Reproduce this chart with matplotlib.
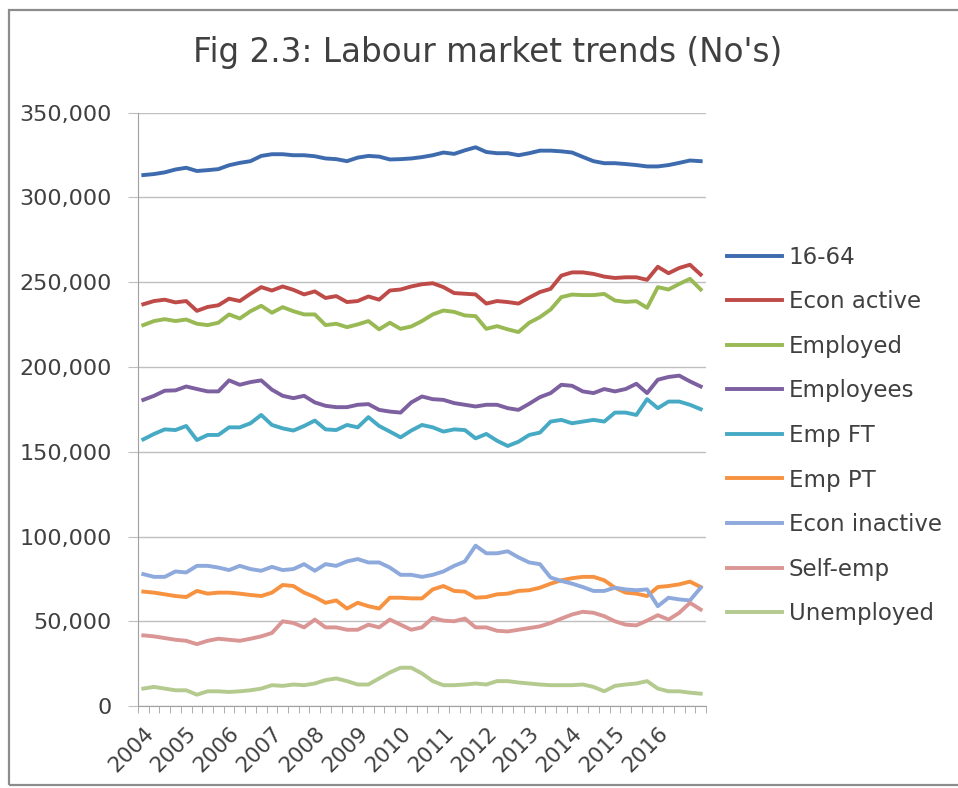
import numpy as np
import matplotlib.pyplot as plt
from matplotlib.patches import Rectangle
from matplotlib.ticker import FuncFormatter, FixedLocator

# quarterly points, 2004 onwards
years = ['2004', '2005', '2006', '2007', '2008', '2009', '2010',
         '2011', '2012', '2013', '2014', '2015', '2016']

age_16_64 = [313200, 313800, 314800, 316500, 317500, 315600, 316100, 316700, 319000,
             320400, 321400, 324500, 325500, 325500, 324900, 324900, 324300, 323000,
             322600, 321400, 323500, 324500, 324100, 322400, 322600, 323000, 323800,
             324900, 326500, 325700, 327800, 329600, 326800, 326100, 326100, 324900,
             326100, 327600, 327600, 327200, 326500, 323900, 321400, 320200, 320200,
             319700, 319100, 318300, 318300, 319100, 320400, 321800, 321400]
econ_active = [237000, 238900, 239700, 238100, 238900, 233100, 235400, 236400, 240300,
               238900, 243200, 247100, 245100, 247500, 245500, 242800, 244600, 240700,
               241800, 238300, 238900, 241600, 239700, 245100, 245700, 247500, 248800,
               249400, 247100, 243600, 243200, 242800, 237400, 238900, 238300, 237400,
               240900, 244200, 246100, 253900, 255800, 255800, 254900, 253300, 252500,
               252900, 252900, 251400, 259100, 255300, 258400, 260300, 254500]
employed = [224700, 227100, 228200, 227100, 228000, 225500, 224700, 226100, 231000,
            228600, 232900, 236100, 232000, 235300, 232900, 231000, 231000, 224700,
            225500, 223500, 225100, 227100, 222200, 226100, 222500, 223900, 227100,
            231000, 233300, 232500, 230400, 230000, 222500, 224100, 222200, 220600,
            226100, 229400, 233900, 241200, 242700, 242400, 242400, 243100, 239200,
            238400, 238800, 234900, 247100, 245700, 249000, 252000, 245700]
employees = [180600, 183000, 186000, 186200, 188500, 187000, 185600, 185600, 192100,
             189500, 191100, 192100, 186600, 183000, 181600, 183000, 179100, 177100,
             176300, 176300, 177700, 178100, 174700, 173700, 173100, 179100, 182600,
             181000, 180600, 178700, 177700, 176700, 177700, 177700, 175700, 174700,
             178300, 182200, 184600, 189500, 188900, 185600, 184600, 187000, 185600,
             187000, 190100, 184600, 192500, 194100, 194900, 191500, 188500]
emp_ft = [157300, 160500, 163200, 162800, 165200, 156900, 159900, 159900, 164400,
          164400, 166800, 171700, 165800, 163800, 162500, 165200, 168400, 163200,
          162800, 165800, 164400, 170400, 165200, 161900, 158500, 162500, 165800,
          164400, 161900, 163200, 162800, 157900, 160500, 156500, 153400, 155900,
          159900, 161300, 167800, 168800, 166800, 167800, 168800, 167800, 173100,
          173100, 171700, 181000, 175700, 179600, 179600, 177700, 175100]
emp_pt = [67500, 66900, 65900, 64900, 64300, 67900, 66300, 66900, 66900, 66300,
          65500, 64900, 66900, 71400, 70800, 66900, 64300, 60900, 62300, 57500,
          60900, 58900, 57500, 63900, 63900, 63500, 63500, 68800, 70800, 67900,
          67500, 63900, 64300, 65900, 66300, 67900, 68300, 69800, 72200, 74200,
          75400, 76200, 76200, 74200, 69800, 66900, 66300, 64900, 70200, 70800,
          71800, 73400, 70200]
econ_inactive = [77800, 76200, 76200, 79400, 78800, 82700, 82700, 81700, 80200, 82700,
                 80800, 79800, 82100, 80200, 80800, 83700, 79800, 83700, 82700, 85300,
                 86700, 84700, 84700, 81700, 77400, 77400, 76200, 77400, 79400, 82700,
                 85300, 94600, 90100, 90100, 91300, 87700, 84700, 83700, 75800, 73800,
                 72200, 70200, 67900, 67900, 69800, 68800, 68300, 68800, 58900, 63900,
                 62900, 62300, 69800]
self_emp = [41700, 41100, 40100, 39100, 38500, 36500, 38500, 39700, 39100, 38500,
            39700, 41100, 43100, 50000, 49000, 46400, 51000, 46400, 46400, 45000,
            45000, 48000, 46400, 51000, 48000, 45000, 46400, 52000, 50400, 50000,
            51600, 46400, 46400, 44400, 44000, 45000, 46000, 47000, 49000, 51600,
            54000, 55600, 55000, 53000, 50000, 48000, 47600, 50400, 53600, 51000,
            55000, 60900, 56900]
unemployed = [10300, 11300, 10300, 9300, 9300, 6700, 8700, 8700, 8300, 8700,
              9300, 10300, 12300, 11900, 12700, 12300, 13300, 15300, 16300, 14700,
              12700, 12700, 16300, 19800, 22600, 22600, 19200, 14700, 12300, 12300,
              12700, 13300, 12700, 14700, 14700, 13900, 13300, 12700, 12300, 12300,
              12300, 12700, 11300, 8700, 11900, 12700, 13300, 14700, 10300, 8700,
              8700, 7900, 7300]

series = [
    ('16-64', age_16_64, '#3D6BAD'),
    ('Econ active', econ_active, '#BE4B48'),
    ('Employed', employed, '#98B954'),
    ('Employees', employees, '#7D60A0'),
    ('Emp FT', emp_ft, '#46AAC5'),
    ('Emp PT', emp_pt, '#F69240'),
    ('Econ inactive', econ_inactive, '#8EA9DB'),
    ('Self-emp', self_emp, '#DA9694'),
    ('Unemployed', unemployed, '#B4CA8F'),
]

fig = plt.figure(figsize=(9.58, 7.88), dpi=100)
ax = fig.add_axes([0.144, 0.104, 0.593, 0.753])

x = np.arange(len(age_16_64))
for name, vals, col in series:
    ax.plot(x, vals, color=col, lw=2.8, label=name, solid_joinstyle='round')

ax.set_xlim(-0.5, len(x) - 0.5)
ax.set_ylim(0, 350000)
ax.set_yticks(np.arange(0, 350001, 50000))
ax.yaxis.set_major_formatter(FuncFormatter(lambda v, p: f'{int(v):,}'))
ax.grid(axis='y', color='#BFBFBF', lw=1)
ax.set_axisbelow(True)

ax.set_xticks(np.arange(0, len(years) * 4, 4))
ax.set_xticklabels(years, rotation=45, ha='right', rotation_mode='anchor')
ax.xaxis.set_minor_locator(FixedLocator(np.arange(-0.5, len(x), 1)))
ax.tick_params(axis='x', which='major', length=0, labelsize=15.5, pad=12)
ax.tick_params(axis='x', which='minor', length=5, color='#A0A0A0')
ax.tick_params(axis='y', length=7, color='#BFBFBF', labelsize=16, labelcolor='#404040', pad=12)
for lab in ax.get_xticklabels():
    lab.set_color('#404040')

for s in ['top', 'right']:
    ax.spines[s].set_visible(False)
ax.spines['left'].set_color('#A0A0A0')
ax.spines['bottom'].set_color('#A0A0A0')

fig.text(0.509, 0.934, "Fig 2.3: Labour market trends (No's)", ha='center', va='center',
         fontsize=23.5, color='#404040')

leg = ax.legend(loc='center left', bbox_to_anchor=(1.0, 0.456), frameon=False, fontsize=16.5,
                handlelength=2.4, labelspacing=0.94, handletextpad=0.3)
for t in leg.get_texts():
    t.set_color('#404040')

fig.patches.append(Rectangle((0.009, 0.004), 1.2, 0.983, transform=fig.transFigure,
                             fill=False, edgecolor='#8C8C8C', lw=1.6))

fig.savefig('out.png', dpi=100)
